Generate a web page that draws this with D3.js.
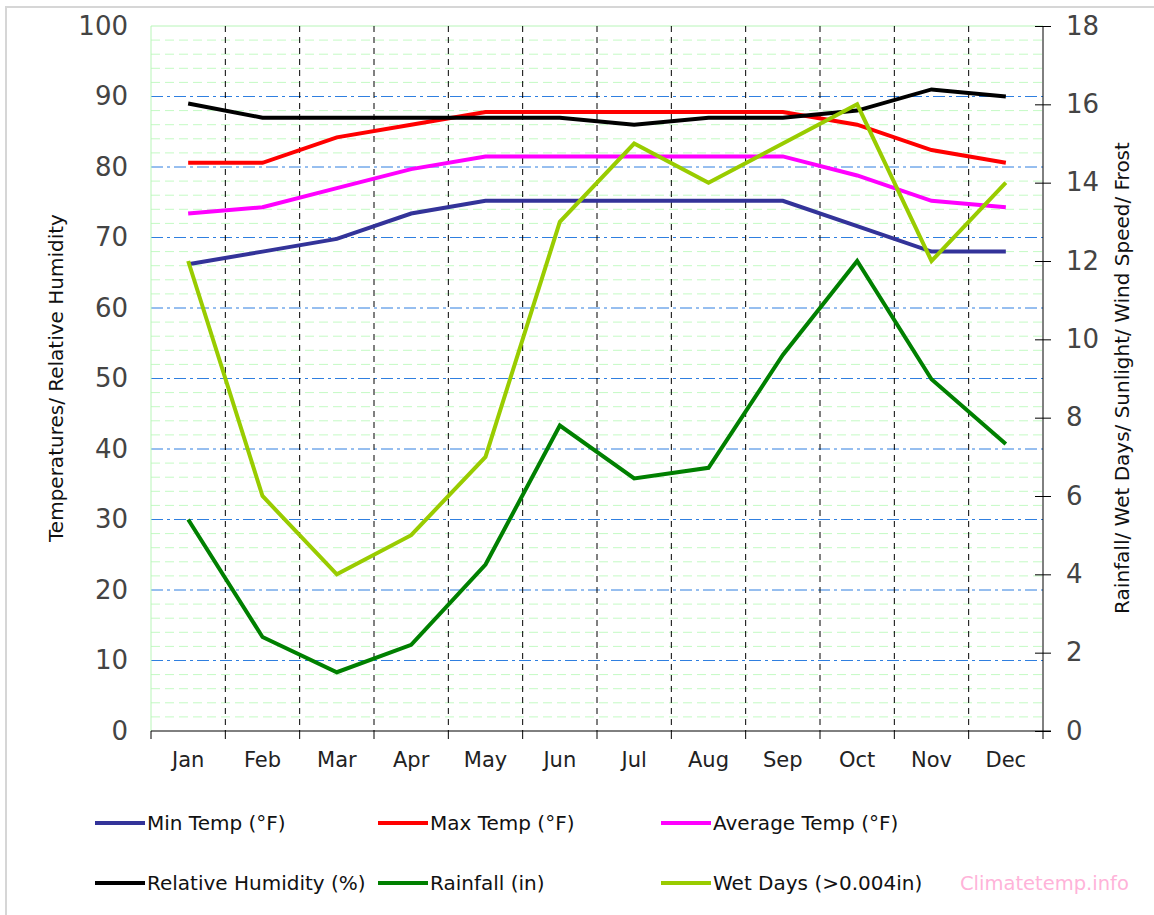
<!DOCTYPE html>
<html>
<head>
<meta charset="utf-8">
<script src="https://cdn.jsdelivr.net/npm/d3@7"></script>
<style>
  body { margin: 0; background: #fff; }
  svg { display: block; font-family: "DejaVu Sans", sans-serif; }
</style>
</head>
<body>
<div id="chart"></div>
<script>
const months = ["Jan", "Feb", "Mar", "Apr", "May", "Jun", "Jul", "Aug", "Sep", "Oct", "Nov", "Dec"];

const minTemp = [66.2, 68, 69.8, 73.4, 75.2, 75.2, 75.2, 75.2, 75.2, 71.6, 68, 68];
const maxTemp = [80.6, 80.6, 84.2, 86, 87.8, 87.8, 87.8, 87.8, 87.8, 86, 82.4, 80.6];
const avgTemp = [73.4, 74.3, 77, 79.7, 81.5, 81.5, 81.5, 81.5, 81.5, 78.8, 75.2, 74.3];
const humidity = [89, 87, 87, 87, 87, 87, 86, 87, 87, 88, 91, 90];
const rainfall = [5.4, 2.4, 1.5, 2.2, 4.25, 7.8, 6.45, 6.72, 9.6, 12, 8.98, 7.33];
const wetDays = [12, 6, 4, 5, 7, 13, 15, 14, 15, 16, 12, 14];

const leftTicks = [0, 10, 20, 30, 40, 50, 60, 70, 80, 90, 100];
const rightTicks = [0, 2, 4, 6, 8, 10, 12, 14, 16, 18];

const series = [
  { name: "Min Temp (°F)", values: minTemp, color: "#333399", axis: "left" },
  { name: "Max Temp (°F)", values: maxTemp, color: "#ff0000", axis: "left" },
  { name: "Average Temp (°F)", values: avgTemp, color: "#ff00ff", axis: "left" },
  { name: "Relative Humidity (%)", values: humidity, color: "#000000", axis: "left" },
  { name: "Rainfall (in)", values: rainfall, color: "#008000", axis: "right" },
  { name: "Wet Days (>0.004in)", values: wetDays, color: "#99cc00", axis: "right" }
];

const W = 1154, H = 915;
const plotLeft = 151, plotRight = 1043, plotTop = 26, plotBottom = 731;

const svg = d3.select("#chart").append("svg")
  .attr("width", W)
  .attr("height", H);

// outer frame (only left/top edges fall inside the picture)
svg.append("rect")
  .attr("x", 6).attr("y", 7)
  .attr("width", 1170).attr("height", 930)
  .attr("fill", "none")
  .attr("stroke", "#d6d6d6")
  .attr("stroke-width", 2);

const x = d3.scaleBand().domain(months).range([plotLeft, plotRight]).padding(0);
const yL = d3.scaleLinear().domain([0, 100]).range([plotBottom, plotTop]);
const yR = d3.scaleLinear().domain([0, 18]).range([plotBottom, plotTop]);
const cx = m => x(m) + x.bandwidth() / 2;

// minor grid every 2 units
const minor = d3.range(2, 100, 2).filter(v => v % 10 !== 0);
svg.append("g").selectAll("line")
  .data(minor)
  .enter().append("line")
  .attr("x1", plotLeft).attr("x2", plotRight)
  .attr("y1", d => yL(d)).attr("y2", d => yL(d))
  .attr("stroke", "#c4fac4")
  .attr("stroke-dasharray", "9,5");

// major grid
svg.append("g").selectAll("line")
  .data(leftTicks.filter(v => v > 0 && v < 100))
  .enter().append("line")
  .attr("x1", plotLeft).attr("x2", plotRight)
  .attr("y1", d => yL(d)).attr("y2", d => yL(d))
  .attr("stroke", "#2f7fe0")
  .attr("stroke-dasharray", "12,4,3,4");

// plot frame: left and top in light green
svg.append("line")
  .attr("x1", plotLeft).attr("x2", plotRight).attr("y1", plotTop).attr("y2", plotTop)
  .attr("stroke", "#b8f5b8");
svg.append("line")
  .attr("x1", plotLeft).attr("x2", plotLeft).attr("y1", plotTop).attr("y2", plotBottom)
  .attr("stroke", "#b8f5b8");

// category separators
const bounds = months.slice(1).map(m => x(m));
svg.append("g").selectAll("line")
  .data(bounds)
  .enter().append("line")
  .attr("x1", d => d).attr("x2", d => d)
  .attr("y1", plotTop).attr("y2", plotBottom)
  .attr("stroke", "#000")
  .attr("stroke-dasharray", "6,5");

// bottom axis
const xAxis = svg.append("g")
  .attr("transform", `translate(0,${plotBottom})`)
  .call(d3.axisBottom(x).tickSize(0).tickPadding(21));
xAxis.select(".domain").remove();
xAxis.selectAll("text")
  .style("font-size", "21px")
  .style("fill", "#222")
  .style("font-family", "DejaVu Sans, sans-serif");

svg.append("line")
  .attr("x1", plotLeft).attr("x2", plotRight + 8)
  .attr("y1", plotBottom).attr("y2", plotBottom)
  .attr("stroke", "#000");
svg.append("g").selectAll("line")
  .data([plotLeft].concat(bounds))
  .enter().append("line")
  .attr("x1", d => d).attr("x2", d => d)
  .attr("y1", plotBottom).attr("y2", plotBottom + 8)
  .attr("stroke", "#000");

// left axis
const yAxisL = svg.append("g")
  .attr("transform", `translate(${plotLeft},0)`)
  .call(d3.axisLeft(yL).tickValues(leftTicks).tickSize(0).tickPadding(23));
yAxisL.select(".domain").remove();
yAxisL.selectAll("text")
  .style("font-size", "26px")
  .style("fill", "#444")
  .style("font-family", "DejaVu Sans, sans-serif");

// right axis
const yAxisR = svg.append("g")
  .attr("transform", `translate(${plotRight},0)`)
  .call(d3.axisRight(yR).tickValues(rightTicks).tickSize(8).tickPadding(15));
yAxisR.select(".domain")
  .attr("d", `M0,${plotTop}V${plotBottom + 8}`)
  .attr("stroke", "#000");
yAxisR.selectAll(".tick line").attr("x1", -8).attr("stroke", "#000");
yAxisR.selectAll("text")
  .style("font-size", "26px")
  .style("fill", "#444")
  .style("font-family", "DejaVu Sans, sans-serif");

// axis titles
svg.append("text")
  .attr("transform", `translate(63,378) rotate(-90)`)
  .attr("text-anchor", "middle")
  .style("font-size", "20px")
  .style("fill", "#111")
  .text("Temperatures/ Relative Humidity");

svg.append("text")
  .attr("transform", `translate(1129,378) rotate(-90)`)
  .attr("text-anchor", "middle")
  .style("font-size", "20px")
  .style("fill", "#111")
  .text("Rainfall/ Wet Days/ Sunlight/ Wind Speed/ Frost");

// series lines
series.forEach(s => {
  const y = s.axis === "left" ? yL : yR;
  const line = d3.line()
    .x((d, i) => cx(months[i]))
    .y(d => y(d));
  svg.append("path")
    .datum(s.values)
    .attr("d", line)
    .attr("fill", "none")
    .attr("stroke", s.color)
    .attr("stroke-width", 4);
});

// legend
const legendX = [95, 378, 661];
const legendY = [823, 883];
const legend = svg.append("g");
series.forEach((s, i) => {
  const lx = legendX[i % 3];
  const ly = legendY[Math.floor(i / 3)];
  legend.append("line")
    .attr("x1", lx).attr("x2", lx + 50)
    .attr("y1", ly).attr("y2", ly)
    .attr("stroke", s.color)
    .attr("stroke-width", 4);
  legend.append("text")
    .attr("x", lx + 52)
    .attr("y", ly + 7)
    .style("font-size", "20px")
    .style("fill", "#111")
    .text(s.name);
});

svg.append("text")
  .attr("x", 960)
  .attr("y", 890)
  .style("font-size", "19.5px")
  .style("fill", "#ffb3d9")
  .text("Climatetemp.info");
</script>
</body>
</html>
